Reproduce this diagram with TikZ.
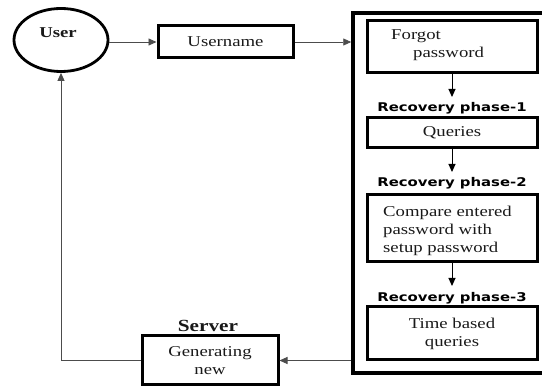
\documentclass[tikz,border=0pt]{standalone}
\usepackage{fontspec}
\setmainfont[FakeStretch=1.25]{Liberation Serif}
\newfontfamily\phasefont[FakeStretch=1.24]{DejaVu Sans}
\usetikzlibrary{shapes.geometric,arrows.meta}
\tikzset{
  stepbox/.style={draw, rectangle, line width=3pt, inner sep=2pt, align=center,
    font=\fontsize{15}{18}\selectfont, text=black!90},
  conn/.style={draw=black!70, line width=0.9pt, -{Triangle[length=8pt,width=7pt]}},
  downarrow/.style={draw=black, line width=1pt, -{Triangle[length=8pt,width=7pt]}},
  phase/.style={font=\phasefont\bfseries\fontsize{12}{14}\selectfont, inner sep=0pt},
  plain/.style={inner sep=0pt, align=left, font=\fontsize{15}{18}\selectfont, text=black!90},
}
\begin{document}
\begin{tikzpicture}[x=1pt,y=-1pt]
\useasboundingbox (0,0) rectangle (542,387);
\clip (0,0) rectangle (542,387);

% user
\node[ellipse, draw, line width=2.8pt, minimum width=94, minimum height=63] (user) at (61,40) {};
\node[inner sep=0pt, font=\bfseries\fontsize{15}{18}\selectfont, text=black!90] (usertext) at (58,33) {User};

% username
\node[stepbox, minimum width=135, minimum height=32] (uname) at (225.5,42) {Username};

% recovery panel
\node[draw, rectangle, line width=3.5pt, minimum width=194, minimum height=360] (panel) at (450,193) {};

\node[stepbox, minimum width=170, minimum height=52] (forgot) at (452,47) {};
\node[plain, anchor=north west] (forgottext) at (391,29) {Forgot\\\hspace*{22pt}password};
\coordinate (t1) at (452,97);
\node[phase] (ph1) at (452,108) {Recovery phase-1};

\node[stepbox, minimum width=170, minimum height=30] (queries) at (452,133) {Queries};
\coordinate (t2) at (452,172);
\node[phase] (ph2) at (452,183) {Recovery phase-2};

\node[stepbox, minimum width=170, minimum height=67] (compare) at (452,228.5) {};
\node[plain, anchor=north west] (comparetext) at (383,206) {Compare entered\\password with\\setup password};
\coordinate (t3) at (452,286);
\node[phase] (ph3) at (452,298) {Recovery phase-3};

\node[stepbox, minimum width=170, minimum height=53] (timeq) at (452,333.5)
  {\fontsize{15}{19}\selectfont Time based\\queries};

% server
\node[inner sep=0pt, font=\bfseries\fontsize{17}{20}\selectfont, text=black!90] (servertext) at (208,326) {Server};
\node[stepbox, minimum width=136, minimum height=49] (server) at (210,360.5) {Generating\\new};

% connectors
\draw[conn] (user.east |- uname.west) -- (uname.west);
\draw[conn] (uname.east) -- (uname.east -| panel.west);
\draw[downarrow] (forgot.south) -- (t1);
\draw[downarrow] (queries.south) -- (t2);
\draw[downarrow] (compare.south) -- (t3);
\draw[conn] (server.east -| panel.west) -- (server.east);
\draw[conn] (server.west) -- (server.west -| user.south) -- (user.south);
\end{tikzpicture}
\end{document}
